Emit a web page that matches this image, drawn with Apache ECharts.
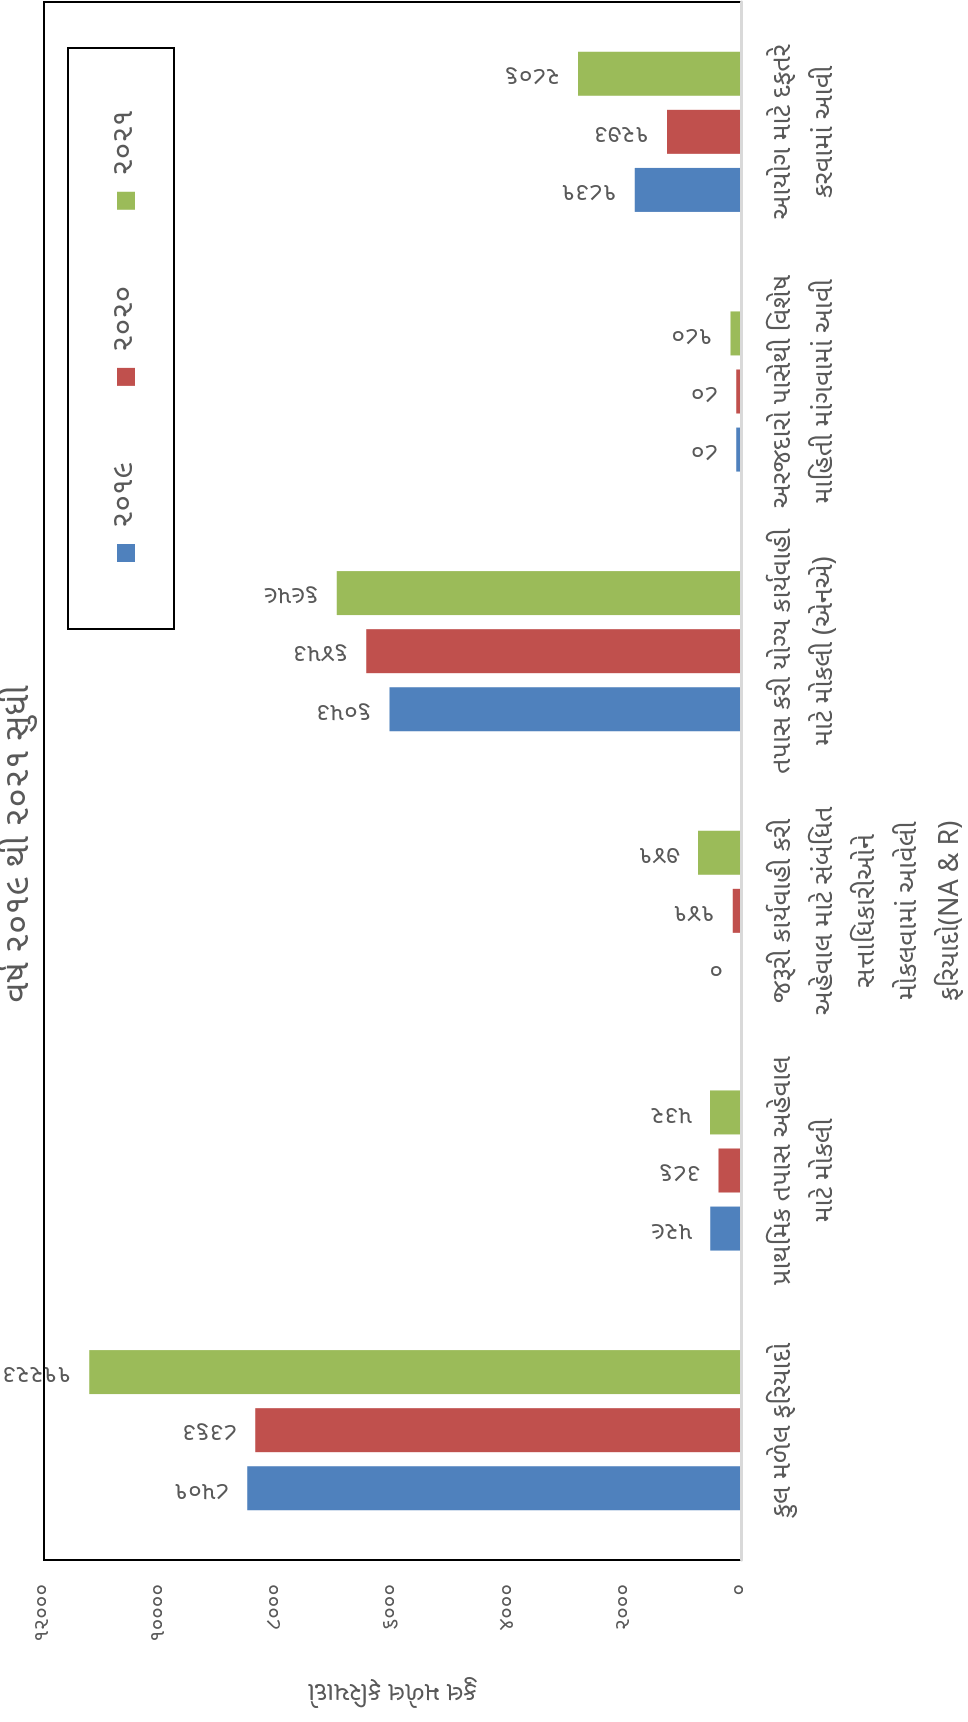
<!DOCTYPE html>
<html>
<head>
<meta charset="utf-8">
<script src="https://cdn.jsdelivr.net/npm/echarts@6/dist/echarts.min.js"></script>
<style>
  html, body { margin: 0; padding: 0; background: #fff; width: 968px; height: 1722px; overflow: hidden; }
  /* The chart is laid out landscape and turned a quarter turn counter-clockwise on the page */
  #chart {
    position: absolute; left: 0; top: 0;
    width: 1722px; height: 968px;
    transform-origin: 0 0;
    transform: translateY(1722px) rotate(-90deg);
  }
</style>
</head>
<body>
<div id="chart"></div>
<script>
const categories = [
  'કુલ મળેલ ફરિયાદો',
  'પ્રાથમિક તપાસ અહેવાલ\nમાટે મોકલી',
  'જરૂરી કાર્યવાહી કરી\nઅહેવાલ માટે સંબંધિત\nસત્તાધિકારીઓને\nમોકલવામાં આવેલી\nફરિયાદો(NA & R)',
  'તપાસ કરી યોગ્ય કાર્યવાહી\nમાટે મોકલી (એનએ)',
  'અરજદારો પાસેથી વિશેષ\nમાહિતી માંગવામાં આવી',
  'આયોગ માટે દફતરે\nકરવામાં આવી'
];
const seriesNames = ['૨૦૧૯', '૨૦૨૦', '૨૦૨૧'];
const values2019 = [8501, 529, 0, 6053, 80, 1831];
const values2020 = [8363, 386, 141, 6453, 80, 1273];
const values2021 = [11223, 532, 741, 6959, 180, 2806];
const seriesColors = ['#4F81BD', '#C0504D', '#9BBB59'];
const titleText = 'વર્ષ ૨૦૧૯ થી ૨૦૨૧ સુધી';
const axisTitle = 'કુલ મળેલ ફરિયાદો';

const FONT = '"Noto Sans Gujarati", "Lohit Gujarati", "Shruti", "Noto Sans", sans-serif';
const TEXT = '#595959';
const GU_DIGITS = '૦૧૨૩૪૫૬૭૮૯';
const toGujarati = v => String(v).replace(/[0-9]/g, d => GU_DIGITS[+d]);

const chart = echarts.init(document.getElementById('chart'), null, { renderer: 'canvas' });

const seriesData = [values2019, values2020, values2021];
const series = seriesData.map((data, i) => ({
  type: 'bar',
  name: seriesNames[i],
  data: data,
  barWidth: 44,
  barGap: '32%',
  itemStyle: { color: seriesColors[i] },
  label: {
    show: true,
    position: 'top',
    rotate: 90,
    align: 'left',
    verticalAlign: 'middle',
    distance: 18,
    color: TEXT,
    fontSize: 25,
    fontFamily: FONT,
    formatter: p => toGujarati(p.value)
  }
}));

chart.setOption({
  animation: false,
  backgroundColor: '#fff',
  title: {
    text: titleText,
    left: 873,
    textAlign: 'center',
    top: -1,
    textStyle: { color: TEXT, fontSize: 35, fontWeight: 'normal', fontFamily: FONT }
  },
  legend: {
    left: 1160,
    top: 111,
    padding: 0,
    icon: 'rect',
    itemWidth: 18,
    itemHeight: 18,
    itemGap: 76,
    textStyle: { color: TEXT, fontSize: 30, lineHeight: 20, padding: [0, 0, 0, 11], fontFamily: FONT }
  },
  graphic: [{
    type: 'rect',
    shape: { x: 1093, y: 68, width: 581, height: 106 },
    style: { fill: 'none', stroke: '#000', lineWidth: 2 },
    z: 10
  }],
  grid: {
    left: 162, right: 2, top: 44, bottom: 227,
    outerBoundsMode: 'none',
    containLabel: false,
    show: true, borderColor: '#000', borderWidth: 2
  },
  xAxis: {
    type: 'category',
    data: categories,
    z: 5,
    axisLine: { show: true, lineStyle: { color: '#d9d9d9', width: 3 } },
    axisTick: { show: false },
    axisLabel: {
      interval: 0,
      margin: 23,
      color: TEXT,
      fontSize: 27,
      lineHeight: 42,
      fontFamily: FONT
    }
  },
  yAxis: {
    type: 'value',
    min: 0,
    max: 12000,
    interval: 2000,
    splitLine: { show: false },
    axisLine: { show: false },
    axisTick: { show: false },
    axisLabel: {
      margin: 24,
      color: TEXT,
      fontSize: 21,
      fontFamily: FONT,
      formatter: v => toGujarati(v)
    },
    name: axisTitle,
    nameLocation: 'middle',
    nameGap: 116,
    nameRotate: 90,
    nameTextStyle: { color: TEXT, fontSize: 26, fontFamily: FONT }
  },
  series: series
});
</script>
</body>
</html>
